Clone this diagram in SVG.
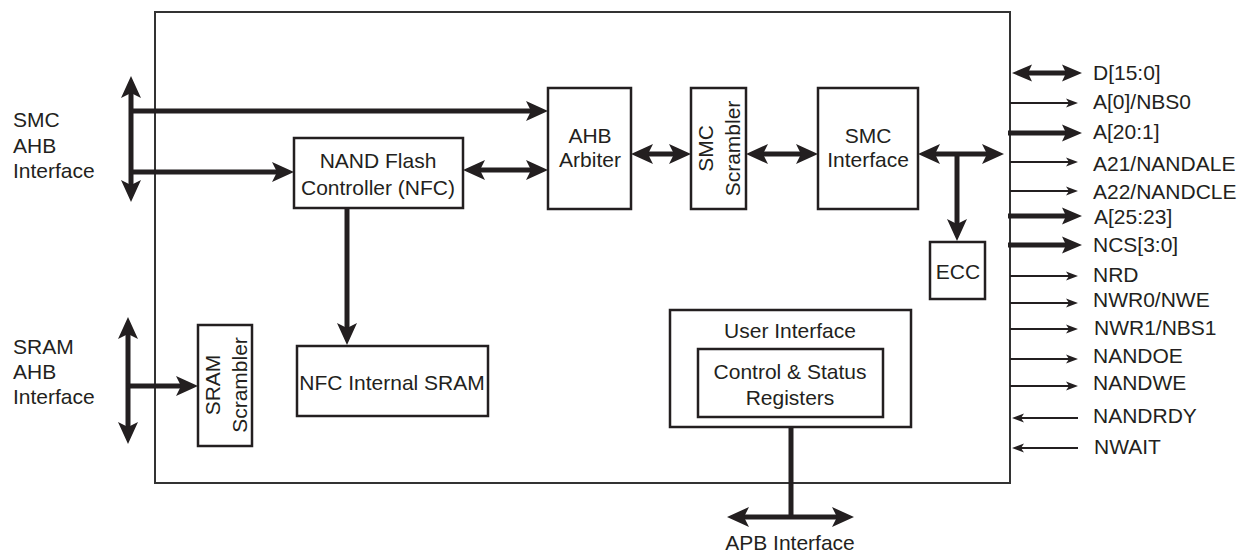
<svg xmlns="http://www.w3.org/2000/svg" width="1241" height="555" viewBox="0 0 1241 555">
<style>
text{font-family:"Liberation Sans",Arial,sans-serif;font-size:21px;fill:#231f20}
.c{text-anchor:middle}
.box{fill:#fff;stroke:#231f20;stroke-width:2.5}
.main{fill:#fff;stroke:#333;stroke-width:2}
.w{stroke:#231f20;stroke-width:5;fill:none}
.t{stroke:#231f20;stroke-width:2;fill:none}
.a{marker-start:url(#ha);marker-end:url(#ha)}
.e{marker-end:url(#ha)}
.m2{marker-start:url(#hm);marker-end:url(#hm)}
.me{marker-end:url(#hm)}
.te{marker-end:url(#ht)}
</style>
<defs>
<marker id="ha" markerUnits="userSpaceOnUse" orient="auto-start-reverse" refX="-12" refY="0" markerWidth="30" markerHeight="30" overflow="visible"><path d="M0,0 L-22,-10 L-17,0 L-22,10 Z" fill="#231f20"/></marker>
<marker id="hm" markerUnits="userSpaceOnUse" orient="auto-start-reverse" refX="-10" refY="0" markerWidth="30" markerHeight="30" overflow="visible"><path d="M0,0 L-20,-8.5 L-16,0 L-20,8.5 Z" fill="#231f20"/></marker>
<marker id="ht" markerUnits="userSpaceOnUse" orient="auto-start-reverse" refX="-5" refY="0" markerWidth="20" markerHeight="20" overflow="visible"><path d="M0,0 L-12,-4.5 L-9,0 L-12,4.5 Z" fill="#231f20"/></marker>
</defs>
<rect width="1241" height="555" fill="#fff"/>
<g id="smc">
<rect class="main" x="155" y="12" width="855" height="471"/>
</g>
<g id="labels-left">
<text x="13" y="127">SMC</text>
<text x="13" y="153">AHB</text>
<text x="13" y="178">Interface</text>
<text x="13" y="354">SRAM</text>
<text x="13" y="379">AHB</text>
<text x="13" y="404">Interface</text>
</g>
<g id="nfc"><rect class="box" x="294" y="138" width="169" height="70"/>
<text class="c" x="378" y="168">NAND Flash</text><text class="c" x="378" y="195">Controller (NFC)</text></g>
<g id="arbiter"><rect class="box" x="548" y="88" width="83" height="121"/>
<text class="c" x="590" y="143">AHB</text><text class="c" x="590" y="167">Arbiter</text></g>
<g id="smc-scrambler"><rect class="box" x="691" y="88" width="55" height="121"/>
<text class="c" transform="translate(713,148.5) rotate(-90)">SMC</text><text class="c" transform="translate(740,148.5) rotate(-90)">Scrambler</text></g>
<g id="smc-interface"><rect class="box" x="818" y="88" width="100" height="121"/>
<text class="c" x="868" y="143">SMC</text><text class="c" x="868" y="167">Interface</text></g>
<g id="ecc"><rect class="box" x="930" y="242" width="55" height="57"/>
<text class="c" x="958" y="279">ECC</text></g>
<g id="sram-scrambler"><rect class="box" x="198" y="325" width="54" height="121"/>
<text class="c" transform="translate(220,385) rotate(-90)">SRAM</text><text class="c" transform="translate(247,385) rotate(-90)">Scrambler</text></g>
<g id="nfc-sram"><rect class="box" x="297" y="346" width="191" height="70"/>
<text class="c" x="392" y="390">NFC Internal SRAM</text></g>
<g id="user-interface"><rect class="box" x="670" y="310" width="241" height="117"/>
<text class="c" x="790" y="338">User Interface</text></g>
<g id="csr"><rect class="box" x="698" y="349" width="185" height="68"/>
<text class="c" x="790" y="379">Control &amp; Status</text><text class="c" x="790" y="405">Registers</text></g>
<g id="connectors">
<line class="w a" x1="131" y1="88" x2="131" y2="190"/>
<line class="w e" x1="129" y1="111" x2="536" y2="111"/>
<line class="w e" x1="129" y1="172" x2="282" y2="172"/>
<line class="w a" x1="475" y1="170" x2="536" y2="170"/>
<line class="w a" x1="643" y1="154" x2="679" y2="154"/>
<line class="w a" x1="758" y1="154" x2="806" y2="154"/>
<line class="w a" x1="930" y1="154" x2="992" y2="154"/>
<line class="w e" x1="957" y1="152" x2="957" y2="229"/>
<line class="w e" x1="347" y1="208" x2="347" y2="333"/>
<line class="w a" x1="128" y1="329" x2="128" y2="432"/>
<line class="w e" x1="126" y1="386" x2="186" y2="386"/>
<line class="w" x1="791" y1="427" x2="791" y2="517"/>
<line class="w a" x1="739" y1="517" x2="842" y2="517"/>
<line class="w m2" x1="1022" y1="73" x2="1072" y2="73"/>
<line class="t te" x1="1010" y1="103" x2="1073" y2="103"/>
<line class="w me" x1="1008" y1="133" x2="1072" y2="133"/>
<line class="t te" x1="1010" y1="162" x2="1073" y2="162"/>
<line class="t te" x1="1010" y1="191" x2="1073" y2="191"/>
<line class="w me" x1="1008" y1="216" x2="1072" y2="216"/>
<line class="w me" x1="1008" y1="245" x2="1072" y2="245"/>
<line class="t te" x1="1010" y1="276" x2="1073" y2="276"/>
<line class="t te" x1="1010" y1="303" x2="1073" y2="303"/>
<line class="t te" x1="1010" y1="329" x2="1073" y2="329"/>
<line class="t te" x1="1010" y1="359" x2="1073" y2="359"/>
<line class="t te" x1="1010" y1="386" x2="1073" y2="386"/>
<line class="t te" x1="1078" y1="418" x2="1017" y2="418"/>
<line class="t te" x1="1078" y1="448" x2="1017" y2="448"/>
</g>
<g id="labels-right">
<text x="1093" y="80">D[15:0]</text>
<text x="1093" y="109">A[0]/NBS0</text>
<text x="1093" y="139">A[20:1]</text>
<text x="1093" y="171">A21/NANDALE</text>
<text x="1093" y="199">A22/NANDCLE</text>
<text x="1094" y="224">A[25:23]</text>
<text x="1093" y="252">NCS[3:0]</text>
<text x="1093" y="282">NRD</text>
<text x="1093" y="307">NWR0/NWE</text>
<text x="1094" y="335">NWR1/NBS1</text>
<text x="1093" y="363">NANDOE</text>
<text x="1093" y="390">NANDWE</text>
<text x="1093" y="423">NANDRDY</text>
<text x="1094" y="454">NWAIT</text>
<text class="c" x="790" y="550">APB Interface</text>
</g>
</svg>
